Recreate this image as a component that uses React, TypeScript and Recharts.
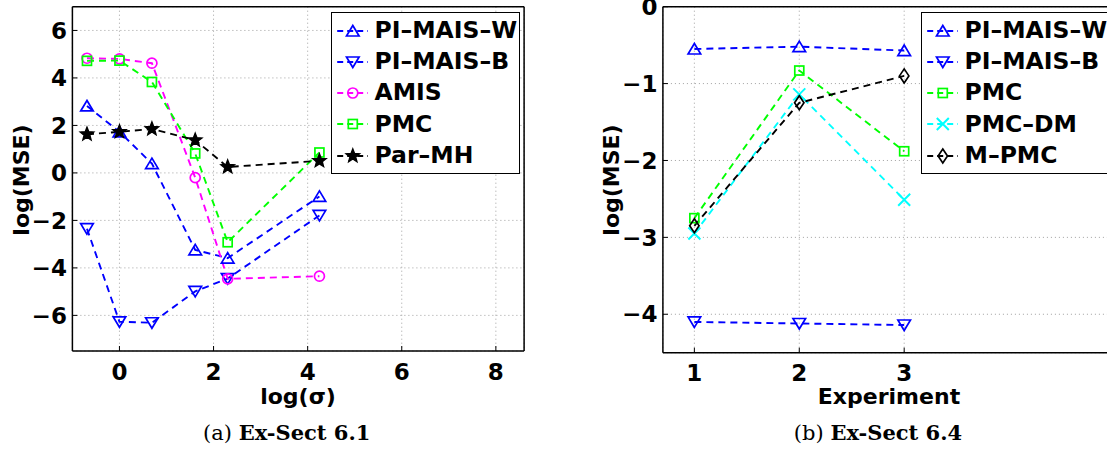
import React from 'react';
import { LineChart, Line, XAxis, YAxis, CartesianGrid, Legend } from 'recharts';

// (a) Ex-Sect 6.1 : x = log(sigma)
const logSigma = [-0.69, 0, 0.69, 1.61, 2.3, 4.25];
const sigmaTicks = [0, 2, 4, 6, 8];
const mseTicksA = [-6, -4, -2, 0, 2, 4, 6];
const piWA = [2.82, 1.73, 0.39, -3.24, -3.59, -0.99];
const piBA = [-2.35, -6.27, -6.31, -4.99, -4.45, -1.79];
const amisA = [4.83, 4.8, 4.62, -0.2, -4.46, -4.35];
const pmcA = [4.72, 4.73, 3.83, 0.82, -2.92, 0.86];
const parMhA = [1.63, 1.73, 1.85, 1.38, 0.25, 0.51];

// (b) Ex-Sect 6.4 : x = experiment
const experiments = [1, 2, 3];
const expTicks = [1, 2, 3];
const mseTicksB = [-4, -3, -2, -1, 0];
const piWB = [-0.55, -0.52, -0.57];
const piBB = [-4.1, -4.12, -4.14];
const pmcB = [-2.75, -0.83, -1.88];
const pmcDmB = [-2.95, -1.14, -2.51];
const mPmcB = [-2.85, -1.25, -0.9];

const dataA = logSigma.map((x, i) => ({
    x,
    piW: piWA[i],
    piB: piBA[i],
    amis: amisA[i],
    pmc: pmcA[i],
    parMh: parMhA[i],
}));

const dataB = experiments.map((x, i) => ({
    x,
    piW: piWB[i],
    piB: piBB[i],
    pmc: pmcB[i],
    pmcDm: pmcDmB[i],
    mPmc: mPmcB[i],
}));

type Shape = 'up' | 'down' | 'circle' | 'square' | 'star' | 'x' | 'diamond';

interface Series {
    key: string;
    name: string;
    color: string;
    shape: Shape;
}

const BLUE = '#0000ff';
const MAGENTA = '#ff00ff';
const GREEN = '#00ff00';
const CYAN = '#00ffff';
const BLACK = '#000000';

const seriesA: Series[] = [
    { key: 'piW', name: 'PI\u2013MAIS\u2013W', color: BLUE, shape: 'up' },
    { key: 'piB', name: 'PI\u2013MAIS\u2013B', color: BLUE, shape: 'down' },
    { key: 'amis', name: 'AMIS', color: MAGENTA, shape: 'circle' },
    { key: 'pmc', name: 'PMC', color: GREEN, shape: 'square' },
    { key: 'parMh', name: 'Par\u2013MH', color: BLACK, shape: 'star' },
];

const seriesB: Series[] = [
    { key: 'piW', name: 'PI\u2013MAIS\u2013W', color: BLUE, shape: 'up' },
    { key: 'piB', name: 'PI\u2013MAIS\u2013B', color: BLUE, shape: 'down' },
    { key: 'pmc', name: 'PMC', color: GREEN, shape: 'square' },
    { key: 'pmcDm', name: 'PMC\u2013DM', color: CYAN, shape: 'x' },
    { key: 'mPmc', name: 'M\u2013PMC', color: BLACK, shape: 'diamond' },
];

const SANS = '"DejaVu Sans", sans-serif';
const SERIF = '"DejaVu Serif", serif';
const tickFont = { fontFamily: SANS, fontSize: 23, fontWeight: 700, fill: '#000' };
const axisLine = { stroke: '#000', strokeWidth: 1.5 };
const tickLine = { stroke: '#000', strokeWidth: 1 };
const fmt = (v: number) => (v < 0 ? `\u2212${-v}` : `${v}`);
const DASH = '7 5';

function Marker({ cx, cy, shape, color }: { cx: number; cy: number; shape: Shape; color: string }) {
    const p = { fill: 'none', stroke: color, strokeWidth: 1.7 };
    switch (shape) {
        case 'up':
            return <polygon {...p} points={`${cx},${cy - 5.5} ${cx - 6.3},${cy + 5} ${cx + 6.3},${cy + 5}`} />;
        case 'down':
            return <polygon {...p} points={`${cx},${cy + 5.5} ${cx - 6.3},${cy - 5} ${cx + 6.3},${cy - 5}`} />;
        case 'circle':
            return <circle {...p} cx={cx} cy={cy} r={5} />;
        case 'square':
            return <rect {...p} x={cx - 4.5} y={cy - 4.5} width={9} height={9} />;
        case 'diamond':
            return <polygon {...p} points={`${cx},${cy - 7} ${cx + 4.7},${cy} ${cx},${cy + 7} ${cx - 4.7},${cy}`} />;
        case 'x':
            return (
                <path {...p} strokeWidth={2} d={`M${cx - 6},${cy - 6}L${cx + 6},${cy + 6}M${cx - 6},${cy + 6}L${cx + 6},${cy - 6}`} />
            );
        case 'star': {
            const pts: string[] = [];
            for (let k = 0; k < 10; k++) {
                const r = k % 2 === 0 ? 7 : 3;
                const a = -Math.PI / 2 + (k * Math.PI) / 5;
                pts.push(`${cx + r * Math.cos(a)},${cy + r * Math.sin(a)}`);
            }
            return <polygon points={pts.join(' ')} fill={color} stroke={color} strokeWidth={1.4} />;
        }
    }
    return null;
}

function LegendBox({ series }: { series: Series[] }) {
    return (
        <div
            style={{
                boxSizing: 'border-box',
                width: '100%',
                height: '100%',
                border: '1.5px solid #000',
                background: '#fff',
                paddingTop: 2.2,
            }}
        >
            {series.map(s => (
                <div key={s.key} style={{ height: 31.2, display: 'flex', alignItems: 'center' }}>
                    <svg width={42.5} height={24} style={{ flex: 'none' }}>
                        <line x1={5.2} x2={35.8} y1={12} y2={12} stroke={s.color} strokeWidth={1.8} strokeDasharray="6 4" />
                        <Marker cx={20.8} cy={12} shape={s.shape} color={s.color} />
                    </svg>
                    <span
                        style={{
                            fontFamily: SANS,
                            fontSize: 23.5,
                            fontWeight: 700,
                            color: '#000',
                            whiteSpace: 'nowrap',
                            lineHeight: 1,
                        }}
                    >
                        {s.name}
                    </span>
                </div>
            ))}
        </div>
    );
}

function Title({ x, y, text, rotate }: { x: number; y: number; text: string; rotate?: boolean }) {
    return (
        <div
            style={{
                position: 'absolute',
                left: x,
                top: y,
                transform: `translate(-50%, -50%)${rotate ? ' rotate(-90deg)' : ''}`,
                fontFamily: SANS,
                fontSize: 22,
                fontWeight: 700,
                whiteSpace: 'nowrap',
                lineHeight: 1,
            }}
        >
            {text}
        </div>
    );
}

function Caption({ x, tag, text }: { x: number; tag: string; text: string }) {
    return (
        <div
            style={{
                position: 'absolute',
                left: x,
                top: 433,
                transform: 'translate(-50%, -50%)',
                fontFamily: SERIF,
                fontSize: 21,
                whiteSpace: 'nowrap',
                lineHeight: 1,
            }}
        >
            ({tag}) <b>{text}</b>
        </div>
    );
}

function Panel({
    data,
    series,
    xDomain,
    xTicks,
    yDomain,
    yTicks,
    width,
    yAxisWidth,
    margin,
    legendPos,
}: {
    data: Record<string, number>[];
    series: Series[];
    xDomain: [number, number];
    xTicks: number[];
    yDomain: [number, number];
    yTicks: number[];
    width: number;
    yAxisWidth: number;
    margin: { top: number; right: number; bottom: number; left: number };
    legendPos: { left: number; top: number };
}) {
    return (
        <LineChart width={width} height={450} data={data} margin={margin}>
            <CartesianGrid stroke="#a0a0a0" strokeDasharray="1 3" />
            <XAxis
                dataKey="x"
                type="number"
                domain={xDomain}
                ticks={xTicks}
                allowDataOverflow
                interval={0}
                height={40}
                tickSize={-5}
                tickMargin={17.2}
                tick={tickFont}
                tickFormatter={fmt}
                axisLine={axisLine}
                tickLine={tickLine}
            />
            <XAxis
                xAxisId="top"
                orientation="top"
                dataKey="x"
                type="number"
                domain={xDomain}
                ticks={xTicks}
                allowDataOverflow
                interval={0}
                height={1}
                tickSize={-5}
                tick={false}
                axisLine={axisLine}
                tickLine={tickLine}
            />
            <YAxis
                type="number"
                domain={yDomain}
                ticks={yTicks}
                allowDataOverflow
                interval={0}
                width={yAxisWidth}
                tickSize={-5}
                tickMargin={10.5}
                tick={tickFont}
                tickFormatter={fmt}
                axisLine={axisLine}
                tickLine={tickLine}
            />
            <YAxis
                yAxisId="right"
                orientation="right"
                type="number"
                domain={yDomain}
                ticks={yTicks}
                allowDataOverflow
                interval={0}
                width={1}
                tickSize={-5}
                tick={false}
                axisLine={axisLine}
                tickLine={tickLine}
            />
            <Legend
                layout="vertical"
                align="center"
                verticalAlign="middle"
                wrapperStyle={{ left: legendPos.left, top: legendPos.top, width: 188.5, height: 161.7 }}
                content={() => <LegendBox series={series} />}
            />
            {series.map(s => (
                <Line
                    key={s.key}
                    type="linear"
                    dataKey={s.key}
                    name={s.name}
                    stroke={s.color}
                    strokeWidth={1.9}
                    strokeDasharray={DASH}
                    dot={(p: any) => <Marker key={`${s.key}-${p.index}`} cx={p.cx} cy={p.cy} shape={s.shape} color={s.color} />}
                    activeDot={false}
                    isAnimationActive={false}
                />
            ))}
        </LineChart>
    );
}

export default function App() {
    return (
        <div
            style={{
                position: 'fixed',
                left: 0,
                top: 0,
                width: 1107,
                height: 450,
                overflow: 'hidden',
                background: '#fff',
            }}
        >
            <div style={{ position: 'absolute', left: 0, top: 0 }}>
                <Panel
                    data={dataA}
                    series={seriesA}
                    xDomain={[-1, 8.6]}
                    xTicks={sigmaTicks}
                    yDomain={[-7.5, 7]}
                    yTicks={mseTicksA}
                    width={545}
                    yAxisWidth={72.4}
                    margin={{ top: 5.7, right: 19.9, bottom: 59, left: 0 }}
                    legendPos={{ left: 331, top: 12 }}
                />
            </div>
            <div style={{ position: 'absolute', left: 560, top: 0 }}>
                <Panel
                    data={dataB}
                    series={seriesB}
                    xDomain={[0.7, 5]}
                    xTicks={expTicks}
                    yDomain={[-4.5, 0]}
                    yTicks={mseTicksB}
                    width={560}
                    yAxisWidth={102.9}
                    margin={{ top: 5.7, right: 5, bottom: 57.3, left: 0 }}
                    legendPos={{ left: 361, top: 12 }}
                />
            </div>
            <Title x={22.4} y={180} text="log(MSE)" rotate />
            <Title x={298} y={397} text={'log(\u03c3)'} />
            <Title x={612.3} y={180} text="log(MSE)" rotate />
            <Title x={889} y={397} text="Experiment" />
            <Caption x={286.7} tag="a" text="Ex-Sect 6.1" />
            <Caption x={878} tag="b" text="Ex-Sect 6.4" />
        </div>
    );
}
